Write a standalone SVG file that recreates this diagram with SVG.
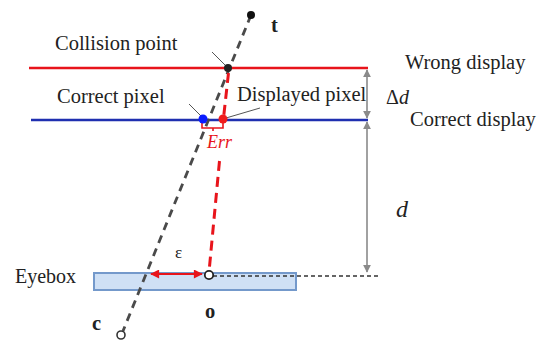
<svg xmlns="http://www.w3.org/2000/svg" width="546" height="343" viewBox="0 0 546 343">
<style>
.t{font-family:"Liberation Serif","Times New Roman",serif;fill:#222;font-size:20.5px}
.b{font-weight:bold}
.i{font-style:italic}
.lead{stroke:#555;stroke-width:1;fill:none}
.dim{stroke:#8a8a8a;stroke-width:1.6;fill:none}
.rd{stroke:#e8141b;stroke-width:3;stroke-dasharray:10,6}
</style>
<defs>
<marker id="ga" viewBox="0 0 10 10" refX="9" refY="5" markerWidth="8" markerHeight="8" markerUnits="userSpaceOnUse" orient="auto-start-reverse">
<path d="M0,0 L10,5 L0,10 z" fill="#8a8a8a"/>
</marker>
<marker id="ra" viewBox="0 0 10 10" refX="9" refY="5" markerWidth="10" markerHeight="9" markerUnits="userSpaceOnUse" orient="auto-start-reverse">
<path d="M0,0 L10,5 L0,10 z" fill="#e8141b"/>
</marker>
</defs>
<rect width="546" height="343" fill="#fff"/>

<g id="wrong-display">
<line x1="29" y1="68" x2="368" y2="68" stroke="#e8141b" stroke-width="2.5"/>
<text class="t" x="405" y="69">Wrong display</text>
</g>
<g id="correct-display">
<line x1="31" y1="120" x2="368" y2="120" stroke="#1f2fb0" stroke-width="2.5"/>
<text class="t" x="410" y="126">Correct display</text>
</g>
<g id="eyebox">
<rect x="94" y="273" width="202" height="17" fill="#cfe0f5" stroke="#7499cb" stroke-width="2"/>
<text class="t" x="15" y="283" style="font-size:20px">Eyebox</text>
</g>

<g id="connectors">
<line x1="251" y1="15" x2="123" y2="331" stroke="#4a4a4a" stroke-width="2.8" stroke-dasharray="8,6"/>
<line class="rd" x1="228.5" y1="73" x2="223.5" y2="118"/>
<line class="rd" x1="219.5" y1="161" x2="209" y2="272"/>
<line x1="213" y1="276" x2="378" y2="276" stroke="#333" stroke-width="1.3" stroke-dasharray="4,3"/>
<line class="dim" x1="367" y1="70" x2="367" y2="118" marker-start="url(#ga)" marker-end="url(#ga)"/>
<line class="dim" x1="367" y1="122" x2="367" y2="272" marker-start="url(#ga)" marker-end="url(#ga)"/>
<line x1="151" y1="274" x2="202" y2="274" stroke="#e8141b" stroke-width="2" marker-start="url(#ra)" marker-end="url(#ra)"/>
<path d="M202,122 V128 H223 V120 M213,128 V131" stroke="#e8141b" stroke-width="1.6" fill="none"/>
<line class="lead" x1="212" y1="52" x2="225" y2="65"/>
<line class="lead" x1="189" y1="104" x2="201" y2="116"/>
<line class="lead" x1="226" y1="118" x2="260" y2="108"/>
</g>

<g id="t-point">
<circle cx="251" cy="15" r="4" fill="#111"/>
<text class="t b" x="271" y="32">t</text>
</g>
<g id="collision-point">
<circle cx="228" cy="68" r="4" fill="#222"/>
<text class="t" x="55" y="50">Collision point</text>
</g>
<g id="correct-pixel">
<circle cx="203" cy="119" r="4.5" fill="#0a1cff"/>
<text class="t" x="57" y="103">Correct pixel</text>
</g>
<g id="displayed-pixel">
<circle cx="223" cy="119" r="4.5" fill="#f01c1c"/>
<text class="t" x="237" y="101">Displayed pixel</text>
</g>
<g id="err-label">
<text class="t i" x="207" y="148" style="font-size:18px;fill:#e8141b">Err</text>
</g>
<g id="delta-d-label">
<text class="t" x="386" y="104" style="font-size:20px">Δ<tspan class="i">d</tspan></text>
</g>
<g id="d-label">
<text class="t i" x="396" y="217" style="font-size:24px">d</text>
</g>
<g id="epsilon-label">
<text class="t" x="175" y="258" style="font-size:17px">ε</text>
</g>
<g id="o-point">
<circle cx="209" cy="275" r="4.2" fill="#fff" stroke="#222" stroke-width="1.8"/>
<text class="t b" x="205" y="318">o</text>
</g>
<g id="c-point">
<circle cx="121" cy="335" r="4" fill="#fff" stroke="#333" stroke-width="1.6"/>
<text class="t b" x="92" y="330">c</text>
</g>
</svg>
